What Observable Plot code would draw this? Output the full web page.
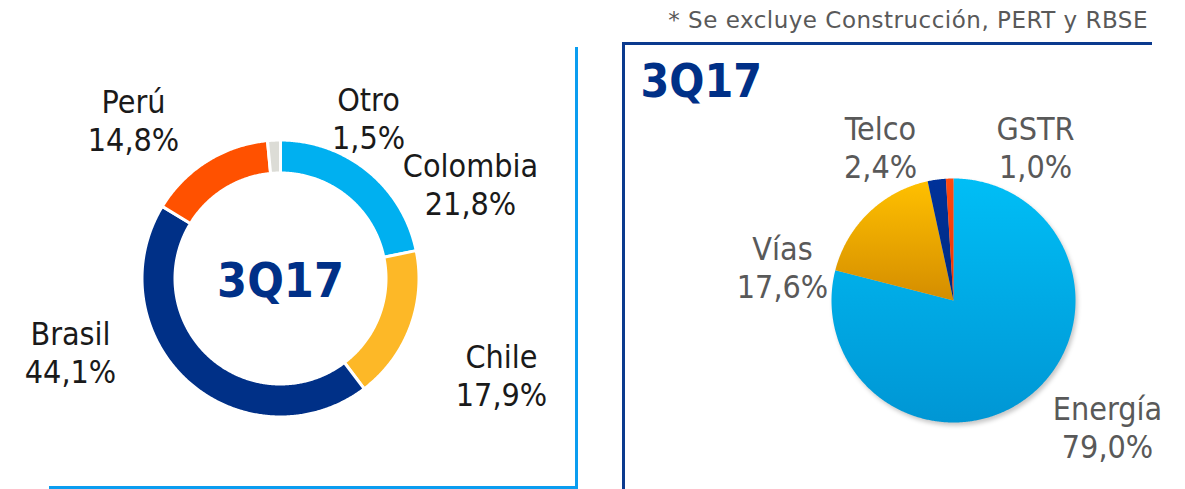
<!DOCTYPE html>
<html><head><meta charset="utf-8">
<script src="https://cdn.jsdelivr.net/npm/d3@7"></script>
<script src="https://cdn.jsdelivr.net/npm/@observablehq/plot@0.6"></script>
<style>
body{margin:0;background:#fff;}
#wrap{position:relative;width:1185px;height:489px;overflow:hidden;font-family:"DejaVu Sans Condensed","DejaVu Sans",sans-serif;font-stretch:condensed;}
#wrap svg{position:absolute;top:0;overflow:visible;}
.line{position:absolute;}
#note{position:absolute;right:37px;top:9px;font-family:"DejaVu Sans",sans-serif;font-stretch:normal;font-size:23px;line-height:23px;letter-spacing:0.5px;color:#595959;white-space:nowrap;}
</style></head><body><div id="wrap"><div id="note"></div></div>
<script>
// ---- data ----
const period = "3Q17";
const footnote = "* Se excluye Construcción, PERT y RBSE";
const regionNames = ["Colombia", "Chile", "Brasil", "Perú", "Otro"];
const regionShares = [21.8, 17.9, 44.1, 14.8, 1.5];
const businessNames = ["Energía", "Vías", "Telco", "GSTR"];
const businessShares = [79.0, 17.6, 2.4, 1.0];

// ---- styles / layout ----
const FONT = "DejaVu Sans Condensed, DejaVu Sans, sans-serif";
const H = 489;
const regionColors = ["#00B0F0", "#FDB827", "#003087", "#FF5100", "#DCDCD6"];
const businessGrad = {
  "Energía": ["#00BEF6", "#0096D4"],
  "Vías": ["#FFC000", "#D48D00"],
  "Telco": ["#00329A", "#002A80"],
  "GSTR": ["#FF4A10", "#F03000"]
};
const gradId = n => "g_" + businessNames.indexOf(n);
// label offsets from pie centre, in px (block centre)
const regionLabelOff = {"Perú": [-147, -159], "Otro": [88, -161], "Colombia": [190, -95], "Chile": [221, 96], "Brasil": [-210, 73.5]};
const businessLabelOff = {"Telco": [-73, -154], "GSTR": [82, -154], "Vías": [-171, -34], "Energía": [154, 126]};
const LP = {left: 0, width: 577, cx: 280, cy: 278, R: 137, rIn: 107};
const RP = {left: 623, width: 562, cx: 330, cy: 300, R: 122};

const fmt = v => v.toFixed(1).replace(".", ",") + "%";

function slicePoints(names, shares, rOuter, rInner) {
  const arcs = d3.pie().sort(null).value(d => d)(shares);
  const pts = [];
  arcs.forEach((a, i) => {
    const name = names[i];
    const n = Math.max(2, Math.ceil((a.endAngle - a.startAngle) / (Math.PI / 360)));
    const seg = [];
    for (let k = 0; k <= n; k++) {
      const t = a.startAngle + (a.endAngle - a.startAngle) * k / n;
      seg.push({name, x: rOuter * Math.sin(t), y: rOuter * Math.cos(t)});
    }
    if (rInner > 0) {
      for (let k = n; k >= 0; k--) {
        const t = a.startAngle + (a.endAngle - a.startAngle) * k / n;
        seg.push({name, x: rInner * Math.sin(t), y: rInner * Math.cos(t)});
      }
    } else {
      seg.push({name, x: 0, y: 0});
    }
    seg.push({...seg[0]});
    pts.push(...seg);
  });
  return pts;
}

const wrap = document.getElementById("wrap");
document.getElementById("note").textContent = footnote;

// ---- left donut ----
const donut = slicePoints(regionNames, regionShares, (LP.R + 1.5) / LP.R, (LP.rIn - 1.5) / LP.R);
const regionLabels = regionNames.map((n, i) => ({name: n, text: n + "\n" + fmt(regionShares[i])}));
const left = Plot.plot({
  width: LP.width, height: H, margin: 0,
  x: {domain: [-LP.cx / LP.R, (LP.width - LP.cx) / LP.R], axis: null},
  y: {domain: [-(H - LP.cy) / LP.R, LP.cy / LP.R], axis: null},
  color: {domain: regionNames, range: regionColors},
  style: {background: "transparent", fontFamily: FONT},
  marks: [
    Plot.line(donut, {x: "x", y: "y", z: "name", fill: "name", stroke: "white", strokeWidth: 3, curve: "linear"}),
    Plot.text([period], {x: () => 0, y: () => 0, text: d => d, fontSize: 48, fontWeight: "bold", fill: "#003087", textAnchor: "middle", dy: 3, fontFamily: FONT}),
    Plot.text(regionLabels, {
      x: d => regionLabelOff[d.name][0] / LP.R, y: d => -regionLabelOff[d.name][1] / LP.R,
      text: "text", fontSize: 32, lineHeight: 38 / 32, lineAnchor: "middle", textAnchor: "middle", fill: "#1a1a1a", fontFamily: FONT
    })
  ]
});
left.style.left = LP.left + "px";
wrap.appendChild(left);

// ---- right pie ----
const pie = slicePoints(businessNames, businessShares, 1, 0);
const businessLabels = businessNames.map((n, i) => ({name: n, text: n + "\n" + fmt(businessShares[i])}));
const right = Plot.plot({
  width: RP.width, height: H, margin: 0,
  x: {domain: [-RP.cx / RP.R, (RP.width - RP.cx) / RP.R], axis: null},
  y: {domain: [-(H - RP.cy) / RP.R, RP.cy / RP.R], axis: null},
  color: {type: "ordinal", domain: businessNames, range: businessNames.map(n => `url(#${gradId(n)})`)},
  style: {background: "transparent", fontFamily: FONT},
  marks: [
    Plot.line(pie, {x: "x", y: "y", z: "name", fill: "name", stroke: "none", curve: "linear"}),
    Plot.text([period], {frameAnchor: "top-left", text: d => d, dx: 17, dy: 64, lineAnchor: "top", textAnchor: "start", fontSize: 46, fontWeight: "bold", fill: "#003087", fontFamily: FONT}),
    Plot.text(businessLabels, {
      x: d => businessLabelOff[d.name][0] / RP.R, y: d => -businessLabelOff[d.name][1] / RP.R,
      text: "text", fontSize: 32, lineHeight: 38 / 32, lineAnchor: "middle", textAnchor: "middle", fill: "#595959", fontFamily: FONT
    })
  ]
});
right.style.left = RP.left + "px";
const defs = d3.select(right).insert("defs", ":first-child");
businessNames.forEach(n => {
  const g = defs.append("linearGradient").attr("id", gradId(n)).attr("x1", 0).attr("y1", 0).attr("x2", 0).attr("y2", 1);
  g.append("stop").attr("offset", "0%").attr("stop-color", businessGrad[n][0]);
  g.append("stop").attr("offset", "100%").attr("stop-color", businessGrad[n][1]);
});
d3.select(right).select('g[aria-label="line"]').style("filter", "drop-shadow(2px 3px 2px rgba(0,0,0,0.22))");
wrap.appendChild(right);

// ---- panel borders ----
function bar(l, t, w, h, c) {
  const d = document.createElement("div");
  d.className = "line";
  Object.assign(d.style, {left: l + "px", top: t + "px", width: w + "px", height: h + "px", background: c});
  wrap.appendChild(d);
}
bar(575, 47, 3, 442, "#0A9DF0");
bar(49, 486, 529, 3, "#0A9DF0");
bar(622, 42, 530, 3, "#0B3A8E");
bar(622, 42, 3, 447, "#0B3A8E");
</script></body></html>
